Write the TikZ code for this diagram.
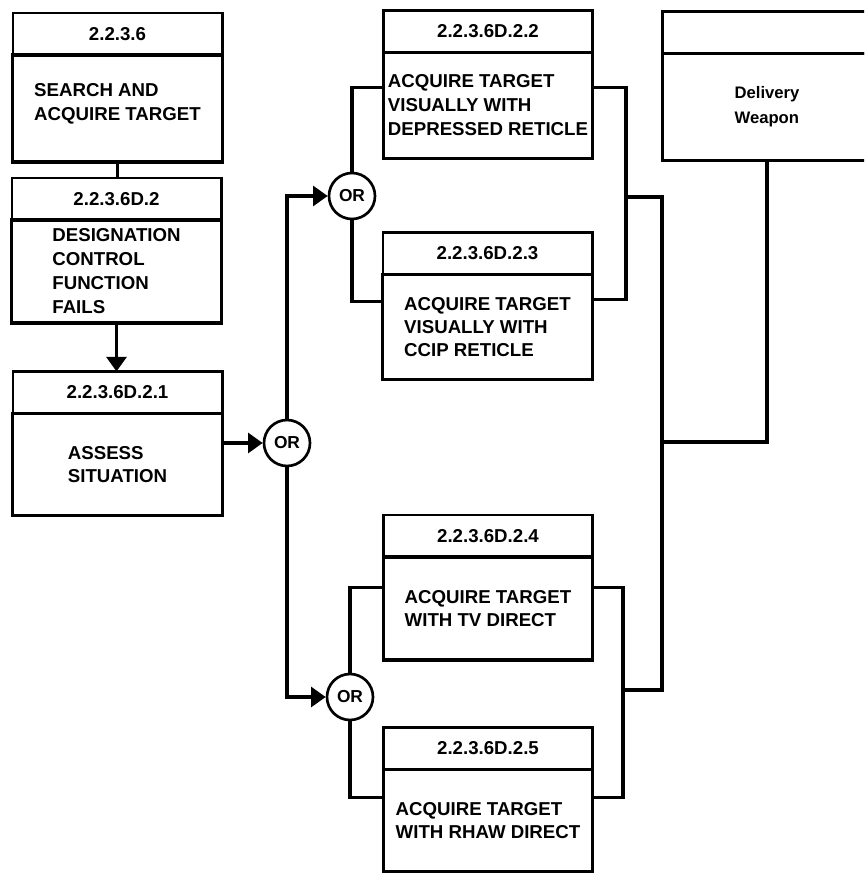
\documentclass[tikz,border=0pt]{standalone}
\usepackage{fontspec}
\setmainfont{Liberation Sans}
\usepackage{tikz}
\usetikzlibrary{arrows.meta,positioning}
\tikzset{
  idbox/.style={draw, line width=2pt, minimum width=157pt, minimum height=31.5pt, inner sep=0pt, outer sep=0pt, font=\fontsize{14}{16}\selectfont\bfseries},
  taskbox/.style={draw, line width=2.4pt, minimum width=157pt, inner sep=2pt, outer sep=0pt, align=left, font=\fontsize{14}{18}\selectfont\bfseries},
  gate/.style={circle, draw, line width=2pt, minimum size=34.5pt, inner sep=0pt, font=\fontsize{13}{14}\selectfont\bfseries},
  flow/.style={-{Triangle[length=11pt,width=15pt]}, line width=2.4pt},
  link/.style={line width=2.4pt}
}

\begin{document}
\begin{tikzpicture}[x=0.75pt, y=-0.75pt]
  \useasboundingbox (0,0) rectangle (864,873);
  \clip (0,0) rectangle (864,873);

  % left column
  \node[idbox] (srch-id) at (117.5,34) {2.2.3.6};
  \node[taskbox, below=0pt of srch-id, minimum height=80.25pt] (srch) {SEARCH AND\\ACQUIRE TARGET\\[-8pt]};
  \node[idbox] (dcf-id) at (116.5,199) {2.2.3.6D.2};
  \node[taskbox, below=0pt of dcf-id, minimum height=77.25pt] (dcf) {DESIGNATION\\CONTROL\\FUNCTION\\FAILS};
  \node[idbox] (assess-id) at (117.5,392.5) {2.2.3.6D.2.1};
  \node[taskbox, below=0pt of assess-id, minimum height=76.5pt, font=\fontsize{14}{17}\selectfont\bfseries] (assess) {ASSESS\\SITUATION};

  % or gates
  \node[gate] (or1) at (287,443) {OR};
  \node[gate] (or2) at (352,196) {OR};
  \node[gate] (or3) at (350,697) {OR};

  % alternatives
  \node[idbox] (depr-id) at (488,31.5) {2.2.3.6D.2.2};
  \node[taskbox, below=0pt of depr-id, minimum height=79.5pt] (depr) {ACQUIRE TARGET\\VISUALLY WITH\\DEPRESSED RETICLE};
  \node[idbox] (ccip-id) at (487.5,253.5) {2.2.3.6D.2.3};
  \node[taskbox, below=0pt of ccip-id, minimum height=78.75pt, font=\fontsize{14}{17}\selectfont\bfseries] (ccip) {ACQUIRE TARGET\\VISUALLY WITH\\CCIP RETICLE};
  \node[idbox] (tv-id) at (488,536) {2.2.3.6D.2.4};
  \node[taskbox, below=0pt of tv-id, minimum height=77.25pt, font=\fontsize{14}{17}\selectfont\bfseries] (tv) {ACQUIRE TARGET\\WITH TV DIRECT};
  \node[idbox] (rhaw-id) at (488,748.5) {2.2.3.6D.2.5};
  \node[taskbox, below=0pt of rhaw-id, minimum height=76.5pt, font=\fontsize{14}{17}\selectfont\bfseries] (rhaw) {ACQUIRE TARGET\\WITH RHAW DIRECT};

  % delivery weapon, cut off at the right
  \node[idbox] (weapon-id) at (767,32.5) {};
  \node[taskbox, below=0pt of weapon-id, minimum height=80.25pt, font=\fontsize{12.5}{18.5}\selectfont\bfseries] (weapon) {Delivery\\Weapon};

  \coordinate (jtop) at (626,197);
  \coordinate (jbot) at (623,690);
  \coordinate (trunk) at (662,442);

  \draw[link] (srch.south) -- (srch.south |- dcf-id.north);
  \draw[flow] (dcf.south) -- (dcf.south |- assess-id.north);
  \draw[flow] (or1.west -| assess.east) -- (or1.west);
  \draw[flow] (or1.north) |- (or2.west);
  \draw[flow] (or1.south) |- (or3.west);

  \draw[link] (or2.north) |- ([yshift=13.5pt]depr.west);
  \draw[link] (or2.south) |- ([yshift=19pt]ccip.west);
  \draw[link] (or3.north) |- ([yshift=15.5pt]tv.west);
  \draw[link] (or3.south) |- ([yshift=17pt]rhaw.west);

  \draw[link] ([yshift=13.5pt]depr.east) -| (jtop) |- ([yshift=20.5pt]ccip.east);
  \draw[link] ([yshift=15.5pt]tv.east) -| (jbot) |- ([yshift=17pt]rhaw.east);
  \draw[link] (jtop) -| (trunk) |- (jbot);
  \draw[link] (weapon.south) |- (trunk);
\end{tikzpicture}
\end{document}
